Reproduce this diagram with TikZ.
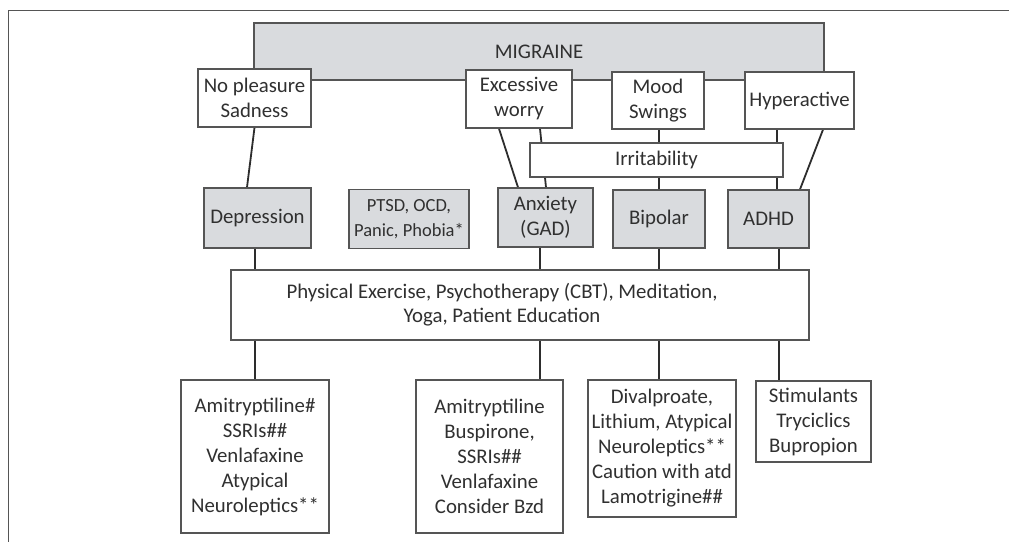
\documentclass[tikz,border=0pt]{standalone}
\usepackage{fontspec}
\setmainfont{Carlito}
\usetikzlibrary{backgrounds}
\definecolor{bordc}{RGB}{85,85,85}
\definecolor{grayc}{RGB}{217,219,222}
\definecolor{txtc}{RGB}{48,48,48}
\definecolor{linec}{RGB}{45,45,45}
\begin{document}
\begin{tikzpicture}[x=1pt,y=-1pt,
  box/.style={draw=bordc, line width=1.3pt, fill=white, align=center, text=txtc,
    inner sep=0pt, font=\fontsize{20.8}{25}\selectfont},
  gbox/.style={box, fill=grayc},
  conn/.style={draw=linec, line width=1.8pt},
  framel/.style={draw=bordc, line width=1pt}]
\useasboundingbox (0,0) rectangle (1009,542);
\draw[framel] (1009,10) -- (8,10) -- (8,542);
% top
\node[gbox, minimum width=570, minimum height=57] (mig) at (539,51.5) {MIGRAINE};
\node[box, minimum width=113, minimum height=58] (nop) at (254.5,98) {No pleasure\\Sadness};
\node[box, minimum width=106, minimum height=58] (ew) at (519,99) {Excessive\\worry};
\node[box, minimum width=92, minimum height=57] (ms) at (658,100.5) {Mood\\Swings};
\node[box, minimum width=109, minimum height=57] (hyp) at (799.5,100.5) {Hyperactive};
% row 2
\node[gbox, minimum width=107, minimum height=60] (dep) at (257.5,218) {Depression};
\node[gbox, minimum width=120, minimum height=59, font=\fontsize{18.5}{25}\selectfont] (ptsd) at (409,219) {PTSD, OCD,\\Panic, Phobia*};
\node[gbox, minimum width=95, minimum height=59] (anx) at (545.5,217.5) {Anxiety\\(GAD)};
\node[gbox, minimum width=92, minimum height=58] (bip) at (659,219) {Bipolar};
\node[gbox, minimum width=81, minimum height=58] (adhd) at (768.5,219) {ADHD};
% connectors upper
\begin{scope}[on background layer]
\draw[conn] (nop.south) -- ([xshift=-10.5pt]dep.north);
\draw[conn] ([xshift=-20pt]ew.south) -- ([xshift=-27.5pt]anx.north);
\draw[conn] ([xshift=21pt]ew.south) -- ([xshift=0.5pt]anx.north);
\draw[conn] ([xshift=1pt]ms.south) -- ([xshift=1pt]ms.south |- bip.north);
\draw[conn] ([xshift=-22.5pt]hyp.south) -- ([xshift=-22.5pt]hyp.south |- adhd.north);
\draw[conn] ([xshift=23.5pt]hyp.south) -- ([xshift=31.5pt]adhd.north);
\end{scope}
\node[box, minimum width=253, minimum height=34] (irr) at (656.5,160) {Irritability};
% exercise
\node[box, minimum width=578, minimum height=70, font=\fontsize{20.8}{24}\selectfont] (ex) at (520,305)
  {Physical Exercise, Psychotherapy (CBT), Meditation,\hspace*{36pt}\\Yoga, Patient Education\hspace*{36pt}};
% bottom
\node[box, minimum width=148, minimum height=153] (b1) at (255,456.5)
  {Amitryptiline\#\\SSRIs\#\#\\Venlafaxine\\Atypical\\Neuroleptics**};
\node[box, minimum width=147, minimum height=153] (b2) at (489.5,456.5)
  {Amitryptiline\\Buspirone,\\SSRIs\#\#\\Venlafaxine\\Consider Bzd};
\node[box, minimum width=148, minimum height=137] (b3) at (662,448.5)
  {Divalproate,\\Lithium, Atypical\\Neuroleptics**\\Caution with atd\\Lamotrigine\#\#};
\node[box, minimum width=115, minimum height=81] (b4) at (813.5,421.5)
  {Stimulants\\Tryciclics\\Bupropion};
\begin{scope}[on background layer]
\draw[conn] ([xshift=-2.5pt]dep.south) -- ([xshift=-2.5pt]dep.south |- ex.north);
\draw[conn] ([xshift=-5.5pt]anx.south) -- ([xshift=-5.5pt]anx.south |- ex.north);
\draw[conn] (bip.south) -- (bip.south |- ex.north);
\draw[conn] ([xshift=10.5pt]adhd.south) -- ([xshift=10.5pt]adhd.south |- ex.north);
\draw[conn] (b1.north |- ex.south) -- (b1.north);
\draw[conn] ([xshift=50.5pt]b2.north |- ex.south) -- ([xshift=50.5pt]b2.north);
\draw[conn] ([xshift=-3pt]b3.north |- ex.south) -- ([xshift=-3pt]b3.north);
\draw[conn] ([xshift=-34.5pt]b4.north |- ex.south) -- ([xshift=-34.5pt]b4.north);
\end{scope}
\end{tikzpicture}
\end{document}
